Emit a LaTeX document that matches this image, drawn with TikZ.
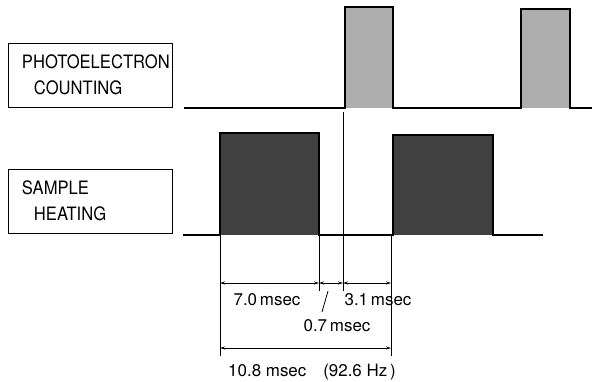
\documentclass[tikz,border=0pt]{standalone}
\usepackage{fontspec}
\setmainfont[FakeStretch=0.9]{TeX Gyre Heros}
\newfontfamily\dimfont{TeX Gyre Heros}
\usepackage{tikz}
\usetikzlibrary{arrows.meta, positioning, calc}
\definecolor{countfill}{rgb}{0.68,0.68,0.68}
\definecolor{heatfill}{rgb}{0.25,0.25,0.25}

\begin{document}
\begin{tikzpicture}[
    x=1bp, y=-1bp,
    font=\fontsize{18.5}{26}\selectfont,
    channel/.style={
        draw=black, line width=0.9pt, rectangle,
        minimum width=164bp, minimum height=64bp,
        align=left, inner sep=0pt, text width=137bp
    },
    wave/.style={draw=black, line width=1.1pt},
    guide/.style={draw=black, line width=0.8pt},
    dim/.style={draw=black, line width=0.8pt, {Stealth[length=5bp,width=3bp]}-{Stealth[length=5bp,width=3bp]}},
    dimlabel/.style={font=\dimfont\fontsize{17}{19}\selectfont, inner sep=1pt}
]

% ---- Fixed page, same proportions as the original figure ----
\useasboundingbox (0,0) rectangle (592,381);

% ---- The two channels ----
\node[channel] (count) at (90.5,75) {PHOTOELECTRON\\\hspace*{12bp}COUNTING};
\node[channel] (heat)  at (90.5,201) {SAMPLE\\\hspace*{12bp}HEATING};

% ---- Pulse trains: counting gates (light) and heating (dark) ----
\fill[countfill] (345,7) rectangle (393,108);
\fill[countfill] (521,9) rectangle (570,108);
\fill[heatfill]  (220,133) rectangle (319,235);
\fill[heatfill]  (393,135) rectangle (493,235);

\draw[wave] (184,108) -- (345,108) -- (345,7) -- (393,7) -- (393,108)
    -- (521,108) -- (521,9) -- (570,9) -- (570,108) -- (592,108);
\draw[wave] (183,235) -- (220,235) -- (220,133) -- (319,133) -- (319,235)
    -- (393,235) -- (393,135) -- (493,135) -- (493,235) -- (543,235);

% ---- Timing marks ----
\coordinate (heaton)   at (220,235);
\coordinate (heatoff)  at (319,235);
\coordinate (counton)  at (343,112);
\coordinate (nexton)   at (391,235);

\coordinate (t0) at (220,283);
\coordinate (t1) at (319,283);
\coordinate (t2) at (343,283);
\coordinate (t3) at (391,283);
\coordinate (p0) at (220,348);
\coordinate (p1) at (391,348);

\draw[guide] (heaton)  -- (220,356);
\draw[guide] (heatoff) -- (319,291);
\draw[guide] (counton) -- (343,291);
\draw[guide] (nexton)  -- (391,356);

% ---- Intervals ----
\draw[dim] (t0) -- (t1);
\draw[dim] (t1) -- (t2);
\draw[dim] (t2) -- (t3);
\draw[dim] (p0) -- (p1);

\node[dimlabel] (heatlen)  at (267,300) {7.0\,msec};
\node[dimlabel] (countlen) at (378,300) {3.1\,msec};
\node[dimlabel] (gaplen)   at (337,326) {0.7\,msec};
\node[dimlabel] (period)   at (312,372) {10.8 msec\quad(92.6 Hz\,)};

\coordinate (gaptip) at (328,291);
\draw[guide] (322,312) -- (gaptip);

\end{tikzpicture}
\end{document}
